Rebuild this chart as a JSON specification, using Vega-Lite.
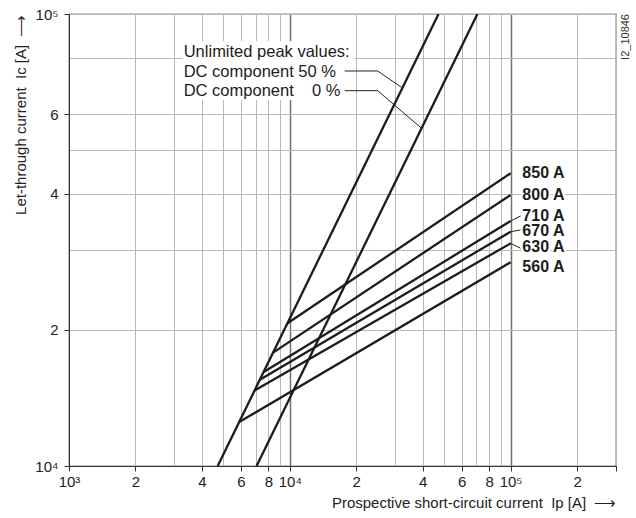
{
  "$schema": "https://vega.github.io/schema/vega-lite/v6.json",
  "width": 547,
  "height": 452,
  "autosize": {"type": "none"},
  "padding": {"left": 69, "top": 14, "right": 20, "bottom": 52},
  "background": "white",
  "config": {
    "view": {"stroke": "#2a2a2a", "strokeWidth": 1.2},
    "font": "Liberation Sans",
    "text": {"font": "Liberation Sans"}
  },
  "datasets": {
    "curves": [
      {"series": "DC component 50 %", "Ip": 4714, "Ic": 10000},
      {"series": "DC component 50 %", "Ip": 47140, "Ic": 100000},
      {"series": "DC component 0 %", "Ip": 7071, "Ic": 10000},
      {"series": "DC component 0 %", "Ip": 70711, "Ic": 100000},
      {"series": "850 A", "Ip": 9759, "Ic": 20690},
      {"series": "850 A", "Ip": 100000, "Ic": 44420},
      {"series": "800 A", "Ip": 8400, "Ic": 17820},
      {"series": "800 A", "Ip": 100000, "Ic": 39780},
      {"series": "710 A", "Ip": 7614, "Ic": 16150},
      {"series": "710 A", "Ip": 100000, "Ic": 34830},
      {"series": "670 A", "Ip": 7317, "Ic": 15520},
      {"series": "670 A", "Ip": 100000, "Ic": 32990},
      {"series": "630 A", "Ip": 6925, "Ic": 14690},
      {"series": "630 A", "Ip": 100000, "Ic": 31090},
      {"series": "560 A", "Ip": 5898, "Ic": 12510},
      {"series": "560 A", "Ip": 100000, "Ic": 28230}
    ],
    "leaders": [
      {"id": "n50", "Ip": 17720, "Ic": 74800},
      {"id": "n50", "Ip": 24990, "Ic": 74800},
      {"id": "n50", "Ip": 32340, "Ic": 68600},
      {"id": "n0", "Ip": 17720, "Ic": 67660},
      {"id": "n0", "Ip": 24990, "Ic": 67660},
      {"id": "n0", "Ip": 39500, "Ic": 55860},
      {"id": "l710", "Ip": 100000, "Ic": 34830},
      {"id": "l710", "Ip": 110990, "Ic": 35740},
      {"id": "l670", "Ip": 100000, "Ic": 32990},
      {"id": "l670", "Ip": 110990, "Ic": 33280},
      {"id": "l630", "Ip": 100000, "Ic": 31090},
      {"id": "l630", "Ip": 110990, "Ic": 30310}
    ],
    "labels": [
      {"label": "850 A", "Ip": 113000, "Ic": 44480},
      {"label": "800 A", "Ip": 113000, "Ic": 39780},
      {"label": "710 A", "Ip": 113000, "Ic": 35800},
      {"label": "670 A", "Ip": 113000, "Ic": 33110},
      {"label": "630 A", "Ip": 113000, "Ic": 30460},
      {"label": "560 A", "Ip": 113000, "Ic": 27600}
    ],
    "notes": [
      {"text": "Unlimited peak values:", "Ip": 3307, "Ic": 82400},
      {"text": "DC component 50 %", "Ip": 3307, "Ic": 74530},
      {"text": "DC component \u2007\u00a00 %", "Ip": 3307, "Ic": 67660}
    ],
    "box": [
      {"x1": 3278, "x2": 19660, "y1": 64520, "y2": 87140}
    ],
    "stamp": [
      {"text": "I2_10846", "Ip": 331700, "Ic": 88960}
    ]
  },
  "layer": [
    {
      "data": {"name": "box"},
      "mark": {"type": "rect", "fill": "white", "stroke": null},
      "encoding": {
        "x": {
          "field": "x1", "type": "quantitative",
          "scale": {"type": "log", "domain": [1000, 300000], "nice": false, "zero": false},
          "axis": {
            "values": [1000, 2000, 3000, 4000, 5000, 6000, 7000, 8000, 9000, 10000, 20000, 30000, 40000, 50000, 60000, 70000, 80000, 90000, 100000, 200000, 300000],
            "labelExpr": "datum.value == 1000 ? '10³' : datum.value == 10000 ? '10⁴' : datum.value == 100000 ? '10⁵' : indexof([2000,4000,6000,8000,20000,40000,60000,80000,200000], datum.value) >= 0 ? format(datum.value / pow(10, floor(log(datum.value) / LN10 + 1e-9)), 'd') : ''",
            "labelFlush": false,
            "labelOverlap": false,
            "labelBound": false,
            "labelFontSize": 15,
            "labelColor": "#222",
            "labelPadding": 3,
            "tickSize": 5,
            "tickColor": "#333",
            "tickOpacity": {"condition": {"test": "indexof([3000,5000,7000,9000,30000,50000,70000,90000], datum.value) >= 0", "value": 0}, "value": 1},
            "domainColor": "#333",
            "grid": true,
            "gridColor": {"condition": {"test": "datum.value == 10000 || datum.value == 100000", "value": "#707070"}, "value": "#b8b8b8"},
            "gridWidth": {"condition": {"test": "datum.value == 10000 || datum.value == 100000", "value": 1.5}, "value": 1},
            "title": "Prospective short-circuit current\u00a0\u00a0Ip [A]\u00a0\u00a0⟶",
            "titleFontSize": 15,
            "titleFontWeight": "normal",
            "titleColor": "#222",
            "titleAnchor": "end",
            "titlePadding": 6
          }
        },
        "x2": {"field": "x2"},
        "y": {
          "field": "y1", "type": "quantitative",
          "scale": {"type": "log", "domain": [10000, 100000], "nice": false, "zero": false},
          "axis": {
            "values": [10000, 20000, 30000, 40000, 50000, 60000, 80000, 100000],
            "labelExpr": "datum.value == 10000 ? '10⁴' : datum.value == 100000 ? '10⁵' : indexof([20000,40000,60000], datum.value) >= 0 ? format(datum.value / 10000, 'd') : ''",
            "labelFlush": false,
            "labelOverlap": false,
            "labelBound": false,
            "labelFontSize": 15,
            "labelColor": "#222",
            "labelPadding": 6,
            "tickSize": 5,
            "tickColor": "#333",
            "tickOpacity": {"condition": {"test": "indexof([30000,50000,80000], datum.value) >= 0", "value": 0}, "value": 1},
            "domainColor": "#333",
            "grid": true,
            "gridColor": "#b8b8b8",
            "title": "Let-through current\u00a0\u00a0Ic [A]\u00a0\u00a0⟶",
            "titleFontSize": 15,
            "titleFontWeight": "normal",
            "titleColor": "#222",
            "titleAnchor": "end",
            "titlePadding": 6
          }
        },
        "y2": {"field": "y2"}
      }
    },
    {
      "data": {"name": "curves"},
      "mark": {"type": "line", "color": "#1c1c1c", "strokeWidth": 2.3, "clip": true},
      "encoding": {
        "x": {"field": "Ip", "type": "quantitative"},
        "y": {"field": "Ic", "type": "quantitative"},
        "detail": {"field": "series"}
      }
    },
    {
      "data": {"name": "leaders"},
      "mark": {"type": "line", "color": "#222", "strokeWidth": 1},
      "encoding": {
        "x": {"field": "Ip", "type": "quantitative"},
        "y": {"field": "Ic", "type": "quantitative"},
        "detail": {"field": "id"}
      }
    },
    {
      "data": {"name": "labels"},
      "mark": {"type": "text", "align": "left", "baseline": "middle", "fontSize": 16, "fontWeight": "bold", "color": "white", "stroke": "white", "strokeWidth": 4},
      "encoding": {
        "x": {"field": "Ip", "type": "quantitative"},
        "y": {"field": "Ic", "type": "quantitative"},
        "text": {"field": "label"}
      }
    },
    {
      "data": {"name": "labels"},
      "mark": {"type": "text", "align": "left", "baseline": "middle", "fontSize": 16, "fontWeight": "bold", "color": "#1c1c1c"},
      "encoding": {
        "x": {"field": "Ip", "type": "quantitative"},
        "y": {"field": "Ic", "type": "quantitative"},
        "text": {"field": "label"}
      }
    },
    {
      "data": {"name": "notes"},
      "mark": {"type": "text", "align": "left", "baseline": "middle", "fontSize": 16.5, "color": "#1c1c1c"},
      "encoding": {
        "x": {"field": "Ip", "type": "quantitative"},
        "y": {"field": "Ic", "type": "quantitative"},
        "text": {"field": "text"}
      }
    },
    {
      "data": {"name": "stamp"},
      "mark": {"type": "text", "align": "center", "baseline": "middle", "angle": 270, "fontSize": 11, "color": "#333"},
      "encoding": {
        "x": {"field": "Ip", "type": "quantitative"},
        "y": {"field": "Ic", "type": "quantitative"},
        "text": {"field": "text"}
      }
    }
  ]
}
